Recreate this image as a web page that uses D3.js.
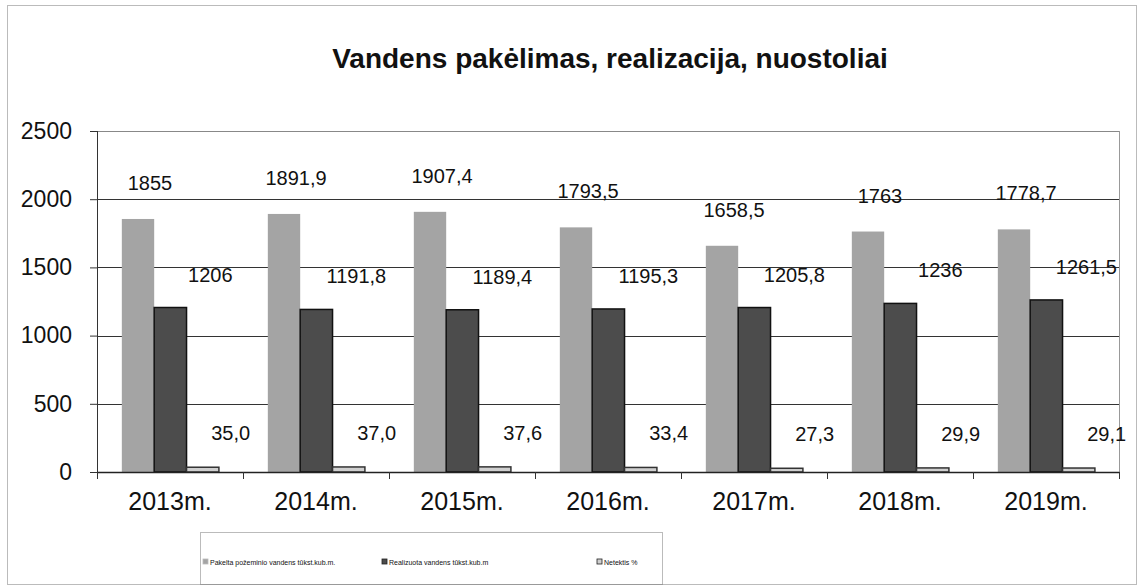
<!DOCTYPE html>
<html>
<head>
<meta charset="utf-8">
<script src="https://cdn.jsdelivr.net/npm/d3@7"></script>
<style>
  body { margin: 0; background: #fff; }
  text { font-family: "Liberation Sans", Arial, sans-serif; fill: #111; }
</style>
</head>
<body>
<div id="chart"></div>
<script>
const years = ['2013m.', '2014m.', '2015m.', '2016m.', '2017m.', '2018m.', '2019m.']
const pakelta = [1855, 1891.9, 1907.4, 1793.5, 1658.5, 1763, 1778.7]
const realizuota = [1206, 1191.8, 1189.4, 1195.3, 1205.8, 1236, 1261.5]
const netektis = [35.0, 37.0, 37.6, 33.4, 27.3, 29.9, 29.1]
const pakeltaLabels = ['1855', '1891,9', '1907,4', '1793,5', '1658,5', '1763', '1778,7']
const realizuotaLabels = ['1206', '1191,8', '1189,4', '1195,3', '1205,8', '1236', '1261,5']
const netektisLabels = ['35,0', '37,0', '37,6', '33,4', '27,3', '29,9', '29,1']
const seriesNames = ['Pakelta požeminio vandens tūkst.kub.m.', 'Realizuota vandens  tūkst.kub.m', 'Netektis %']
const yTicks = [0, 500, 1000, 1500, 2000, 2500]

const width = 1144, height = 587
const margin = { top: 131, right: 25, bottom: 115, left: 97 }

// per series look + label nudge
const styles = [
  { fill: '#a4a4a4', stroke: 'none', dx: 12, dy: -29 },
  { fill: '#4c4c4c', stroke: '#111', dx: 40, dy: -26 },
  { fill: '#cfcfcf', stroke: '#333', dx: 28, dy: -27 }
]
const series = [
  { values: pakelta, labels: pakeltaLabels },
  { values: realizuota, labels: realizuotaLabels },
  { values: netektis, labels: netektisLabels }
]

const svg = d3.select('#chart').append('svg')
  .attr('width', width)
  .attr('height', height)

// outer frame
svg.append('rect')
  .attr('x', 7.5).attr('y', 5.5)
  .attr('width', 1129).attr('height', 579)
  .attr('fill', 'none')
  .attr('stroke', '#777')
  .attr('stroke-dasharray', '1,1')

svg.append('text')
  .attr('x', 610).attr('y', 68)
  .attr('text-anchor', 'middle')
  .attr('font-size', '28px')
  .attr('font-weight', 'bold')
  .text('Vandens pakėlimas, realizacija, nuostoliai')

const innerW = width - margin.left - margin.right
const innerH = height - margin.top - margin.bottom

const g = svg.append('g')
  .attr('transform', 'translate(' + margin.left + ',' + margin.top + ')')

const x0 = d3.scaleBand().domain(years).range([0, innerW]).paddingInner(0).paddingOuter(0)
const x1 = d3.scaleBand().domain([0, 1, 2]).range([x0.bandwidth() * 0.17, x0.bandwidth() * 0.835])
const y = d3.scaleLinear().domain([0, 2500]).range([innerH, 0])

// gridlines
g.selectAll('line.grid')
  .data(yTicks.slice(1))
  .enter()
  .append('line')
  .attr('class', 'grid')
  .attr('x1', 0).attr('x2', innerW)
  .attr('y1', d => Math.round(y(d)) + 0.5)
  .attr('y2', d => Math.round(y(d)) + 0.5)
  .attr('stroke', d => d === 2500 ? '#888' : '#333')
  .attr('stroke-width', 1)

// right border of plot
g.append('line')
  .attr('x1', innerW + 0.5).attr('x2', innerW + 0.5)
  .attr('y1', 0).attr('y2', innerH)
  .attr('stroke', '#999')

// bars
series.forEach((s, si) => {
  g.selectAll('rect.s' + si)
    .data(s.values)
    .enter()
    .append('rect')
    .attr('class', 's' + si)
    .attr('x', (d, i) => x0(years[i]) + x1(si))
    .attr('y', d => y(d))
    .attr('width', x1.bandwidth())
    .attr('height', d => innerH - y(d))
    .attr('fill', styles[si].fill)
    .attr('stroke', styles[si].stroke)
    .attr('stroke-width', si === 0 ? 0 : 1.5)

  g.selectAll('text.l' + si)
    .data(s.values)
    .enter()
    .append('text')
    .attr('class', 'l' + si)
    .attr('x', (d, i) => x0(years[i]) + x1(si) + x1.bandwidth() / 2 + styles[si].dx)
    .attr('y', d => y(d) + styles[si].dy)
    .attr('text-anchor', 'middle')
    .attr('font-size', '20px')
    .text((d, i) => s.labels[i])
})

// y axis
const yAxis = g.append('g')
  .call(d3.axisLeft(y).tickValues(yTicks).tickSize(7).tickPadding(18).tickFormat(d3.format('d')))
yAxis.select('.domain').attr('stroke', '#333').attr('d', 'M0.5,0V' + innerH)
yAxis.selectAll('.tick line').attr('stroke', '#333')
yAxis.selectAll('text').attr('font-size', '23px').attr('font-family', '"Liberation Sans", Arial, sans-serif').attr('fill', '#111')

// x axis
const xAxis = g.append('g')
  .attr('transform', 'translate(0,' + innerH + ')')
  .call(d3.axisBottom(x0).tickSize(0).tickPadding(20))
xAxis.select('.domain').attr('stroke', '#222').attr('stroke-width', 1.5)
xAxis.selectAll('text').attr('font-size', '25px').attr('font-family', '"Liberation Sans", Arial, sans-serif').attr('fill', '#111')

g.selectAll('line.xtick')
  .data(d3.range(years.length + 1))
  .enter()
  .append('line')
  .attr('class', 'xtick')
  .attr('x1', i => Math.round(i * x0.step()) + 0.5)
  .attr('x2', i => Math.round(i * x0.step()) + 0.5)
  .attr('y1', innerH).attr('y2', innerH + 7)
  .attr('stroke', '#333')

// legend
const legend = svg.append('g')
svg.append('rect')
  .attr('x', 200.5).attr('y', 532.5)
  .attr('width', 462).attr('height', 52)
  .attr('fill', 'none')
  .attr('stroke', '#777')
  .attr('stroke-dasharray', '1,1')

const legendX = [203, 382, 597]
seriesNames.forEach((name, i) => {
  legend.append('rect')
    .attr('x', legendX[i]).attr('y', 559)
    .attr('width', 5).attr('height', 5)
    .attr('fill', styles[i].fill)
    .attr('stroke', i === 0 ? '#bbb' : '#222')
    .attr('stroke-width', 0.8)
  legend.append('text')
    .attr('x', legendX[i] + 7).attr('y', 565)
    .attr('font-size', '7px')
    .attr('fill', '#555')
    .text(name)
})
</script>
</body>
</html>
